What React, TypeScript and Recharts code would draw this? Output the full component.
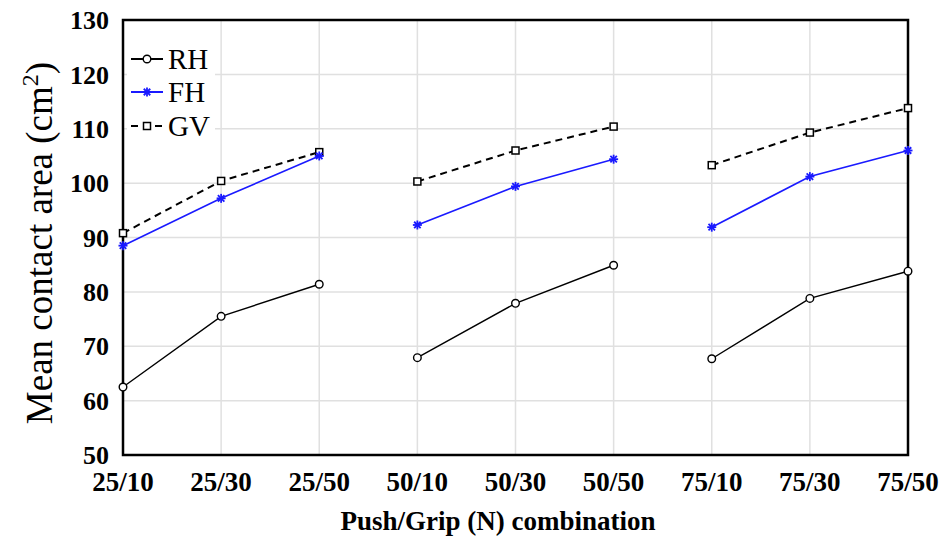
import React from 'react';
import { LineChart, Line, XAxis, YAxis, CartesianGrid } from 'recharts';

const combos = ['25/10', '25/30', '25/50', '50/10', '50/30', '50/50', '75/10', '75/30', '75/50'];
const rhValues = [62.5, 75.5, 81.4, 67.9, 77.9, 84.9, 67.7, 78.8, 83.8];
const fhValues = [88.5, 97.2, 105.0, 92.3, 99.4, 104.4, 91.9, 101.2, 106.0];
const gvValues = [90.8, 100.4, 105.7, 100.3, 106.0, 110.4, 103.3, 109.3, 113.8];
const yTicks = [50, 60, 70, 80, 90, 100, 110, 120, 130];
const groupSize = 3;
const groups = [0, 1, 2];

const serif = '"Liberation Serif", "Times New Roman", serif';

const chartData = combos.map((name, i) => {
  const g = Math.floor(i / groupSize);
  return {
    name,
    [`RH${g}`]: rhValues[i],
    [`FH${g}`]: fhValues[i],
    [`GV${g}`]: gvValues[i],
  };
});

const CircleDot = (props: any) => {
  const { cx, cy } = props;
  if (cx == null || cy == null) return null;
  return <circle cx={cx} cy={cy} r={3.8} fill="#fff" stroke="#000" strokeWidth={1.4} />;
};

const StarDot = (props: any) => {
  const { cx, cy } = props;
  if (cx == null || cy == null) return null;
  const s = 4.5;
  const d = s * 0.72;
  return (
    <g stroke="#1a1aff" strokeWidth={1.8}>
      <line x1={cx - s} y1={cy} x2={cx + s} y2={cy} />
      <line x1={cx} y1={cy - s} x2={cx} y2={cy + s} />
      <line x1={cx - d} y1={cy - d} x2={cx + d} y2={cy + d} />
      <line x1={cx - d} y1={cy + d} x2={cx + d} y2={cy - d} />
    </g>
  );
};

const SquareDot = (props: any) => {
  const { cx, cy } = props;
  if (cx == null || cy == null) return null;
  return <rect x={cx - 3.5} y={cy - 3.5} width={7} height={7} fill="#fff" stroke="#000" strokeWidth={1.5} />;
};

const legendItems = [
  { label: 'RH', color: '#000', dash: undefined as string | undefined, Dot: CircleDot },
  { label: 'FH', color: '#1a1aff', dash: undefined as string | undefined, Dot: StarDot },
  { label: 'GV', color: '#000', dash: '7 5', Dot: SquareDot },
];

const LegendBox = () => (
  <div style={{ position: 'absolute', left: 127, top: 42, background: '#fff', padding: '0 4px 4px 2px', width: 82 }}>
    {legendItems.map((it) => (
      <div key={it.label} style={{ display: 'flex', alignItems: 'center', height: 33.5 }}>
        <svg width={36} height={20}>
          <line x1={2} y1={10} x2={34} y2={10} stroke={it.color} strokeWidth={2} strokeDasharray={it.dash} />
          <it.Dot cx={18} cy={10} />
        </svg>
        <span style={{ fontFamily: serif, fontSize: 29, color: '#000', marginLeft: 3, lineHeight: '30px' }}>{it.label}</span>
      </div>
    ))}
  </div>
);

const YLabel = () => (
  <text
    transform="translate(52, 243) rotate(-90)"
    textAnchor="middle"
    fontFamily={serif}
    fontSize={37}
    fill="#000"
  >
    Mean contact area (cm<tspan dy={-14} fontSize={24}>2</tspan><tspan dy={14}>)</tspan>
  </text>
);

const XLabel = () => (
  <text x={498} y={530} textAnchor="middle" fontFamily={serif} fontWeight="bold" fontSize={27} fill="#000">
    Push/Grip (N) combination
  </text>
);

const App: React.FC = () => {
  return (
    <div style={{ position: 'absolute', left: 0, top: 0, width: 941, height: 536, background: '#fff' }}>
      <LineChart width={941} height={536} data={chartData} margin={{ top: 20, right: 33, left: 0, bottom: 21 }}>
        <CartesianGrid stroke="#e0e0e0" strokeWidth={1.5} />
        <XAxis
          dataKey="name"
          padding={{ left: 0, right: 0 }}
          height={60}
          tickLine={false}
          axisLine={false}
          tick={{ fontFamily: serif, fontWeight: 'bold', fontSize: 27, fill: '#000' }}
          tickMargin={11}
          interval={0}
          label={<XLabel />}
        />
        <YAxis
          width={123}
          domain={[50, 130]}
          ticks={yTicks}
          tickLine={false}
          axisLine={false}
          tickMargin={8}
          tick={{ fontFamily: serif, fontWeight: 'bold', fontSize: 26, fill: '#000' }}
          label={<YLabel />}
        />
        {groups.map((g) => (
          <Line key={`GV${g}`} dataKey={`GV${g}`} stroke="#000" strokeWidth={2} strokeDasharray="7 5" dot={<SquareDot />} activeDot={false} isAnimationActive={false} connectNulls={false} />
        ))}
        {groups.map((g) => (
          <Line key={`FH${g}`} dataKey={`FH${g}`} stroke="#1a1aff" strokeWidth={1.6} dot={<StarDot />} activeDot={false} isAnimationActive={false} connectNulls={false} />
        ))}
        {groups.map((g) => (
          <Line key={`RH${g}`} dataKey={`RH${g}`} stroke="#000" strokeWidth={1.4} dot={<CircleDot />} activeDot={false} isAnimationActive={false} connectNulls={false} />
        ))}
        <rect x={123} y={20} width={785} height={435} fill="none" stroke="#000" strokeWidth={2.5} />
      </LineChart>
      <LegendBox />
    </div>
  );
};

export default App;
